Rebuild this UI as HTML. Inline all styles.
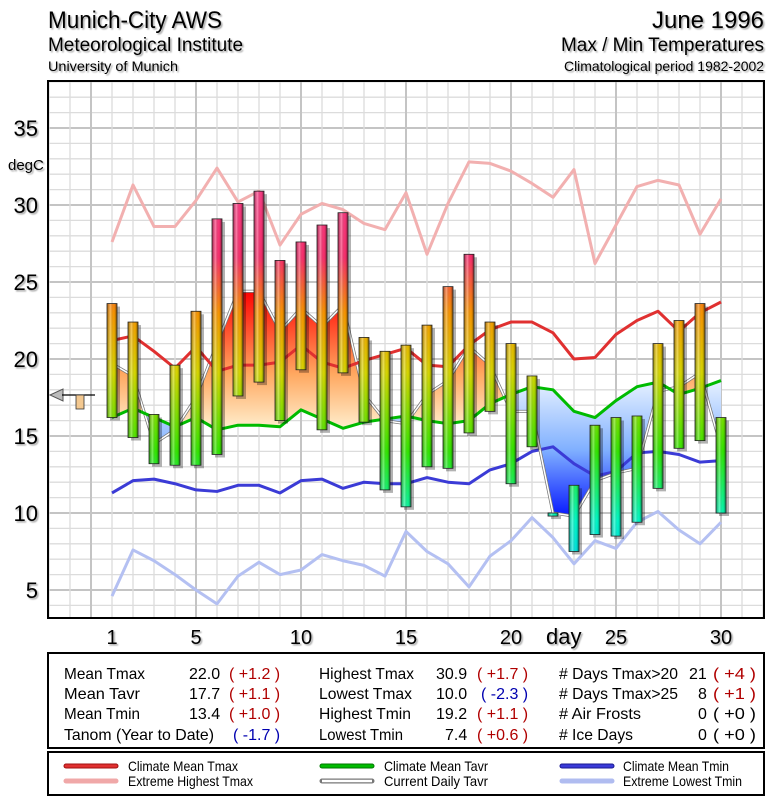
<!DOCTYPE html>
<html><head><meta charset="utf-8">
<style>
body{margin:0;background:#fff;}
svg text{font-family:"Liberation Sans",sans-serif;}
</style></head>
<body>
<svg id="chart" width="775" height="800" viewBox="0 0 775 800" xmlns="http://www.w3.org/2000/svg">
<defs>
  <linearGradient id="barCol" gradientUnits="userSpaceOnUse" x1="0" y1="590" x2="0" y2="128">
    <stop offset="0" stop-color="#00c8ff"/>
    <stop offset="0.15" stop-color="#00ffcc"/>
    <stop offset="0.3" stop-color="#33ee00"/>
    <stop offset="0.47" stop-color="#dddd00"/>
    <stop offset="0.6" stop-color="#ff9900"/>
    <stop offset="0.72" stop-color="#ff2f6f"/>
    <stop offset="1" stop-color="#ff50a0"/>
  </linearGradient>
  <linearGradient id="barShade" x1="0" y1="0" x2="1" y2="0">
    <stop offset="0" stop-color="#000" stop-opacity="0.35"/>
    <stop offset="0.35" stop-color="#fff" stop-opacity="0.35"/>
    <stop offset="0.7" stop-color="#000" stop-opacity="0"/>
    <stop offset="1" stop-color="#000" stop-opacity="0.45"/>
  </linearGradient>
  <linearGradient id="warm" gradientUnits="userSpaceOnUse" x1="0" y1="430" x2="0" y2="290">
    <stop offset="0" stop-color="#fff0d0"/>
    <stop offset="0.4" stop-color="#ffa860"/>
    <stop offset="1" stop-color="#ff0000"/>
  </linearGradient>
  <linearGradient id="cold" gradientUnits="userSpaceOnUse" x1="0" y1="380" x2="0" y2="520">
    <stop offset="0" stop-color="#e8f2ff"/>
    <stop offset="0.5" stop-color="#80b0ff"/>
    <stop offset="1" stop-color="#0010ff"/>
  </linearGradient>
  <filter id="ts" x="-10%" y="-10%" width="130%" height="130%"><feDropShadow dx="1.5" dy="1.5" stdDeviation="0.8" flood-color="#000" flood-opacity="0.35"/></filter>
  <clipPath id="plotClip"><rect x="48" y="81" width="716" height="537"/></clipPath>
  <clipPath id="aboveClip"><polygon id="aboveP"/></clipPath>
  <clipPath id="belowClip"><polygon id="belowP"/></clipPath>
</defs>

<g filter="url(#ts)">
  <text x="48" y="28" font-size="24" textLength="174" lengthAdjust="spacingAndGlyphs">Munich-City AWS</text>
  <text x="48" y="51" font-size="19" textLength="195" lengthAdjust="spacingAndGlyphs">Meteorological Institute</text>
  <text x="48" y="71" font-size="14" textLength="130" lengthAdjust="spacingAndGlyphs">University of Munich</text>
  <text x="652" y="28" font-size="24" textLength="112" lengthAdjust="spacingAndGlyphs">June 1996</text>
  <text x="561" y="51" font-size="19" textLength="203" lengthAdjust="spacingAndGlyphs">Max / Min Temperatures</text>
  <text x="564" y="71" font-size="14" textLength="200" lengthAdjust="spacingAndGlyphs">Climatological period 1982-2002</text>
</g>

<rect x="48" y="81" width="716" height="537" fill="#fff"/>
<g id="grid" clip-path="url(#plotClip)"></g>
<g id="yaxis" filter="url(#ts)"></g>
<text x="8" y="170" font-size="15" filter="url(#ts)">degC</text>
<g id="xaxis" filter="url(#ts)"></g>
<text x="546" y="644" font-size="22" filter="url(#ts)">day</text>
<g id="plot" clip-path="url(#plotClip)"></g>
<rect x="48" y="81" width="716" height="537" fill="none" stroke="#000" stroke-width="2"/>

<g>
  <polygon points="50,395 63,389 63,401" fill="#bbb" stroke="#555" stroke-width="1"/>
  <line x1="62" y1="395" x2="95" y2="395" stroke="#000" stroke-width="1.2"/>
  <rect x="76" y="395" width="8" height="14" fill="#f3c890" stroke="#333" stroke-width="0.8"/>
</g>

<g>
  <rect x="48" y="653" width="716" height="95" fill="#fff" stroke="#000" stroke-width="2"/>
  <g font-size="16">
    <g>
      <text x="64" y="679" textLength="81" lengthAdjust="spacingAndGlyphs">Mean Tmax</text>
      <text x="189" y="679">22.0</text><text x="229" y="679" fill="#b00000">( +1.2 )</text>
      <text x="64" y="699" textLength="76" lengthAdjust="spacingAndGlyphs">Mean Tavr</text>
      <text x="189" y="699">17.7</text><text x="229" y="699" fill="#b00000">( +1.1 )</text>
      <text x="64" y="719" textLength="76" lengthAdjust="spacingAndGlyphs">Mean Tmin</text>
      <text x="189" y="719">13.4</text><text x="229" y="719" fill="#b00000">( +1.0 )</text>
      <text x="64" y="740" textLength="150" lengthAdjust="spacingAndGlyphs">Tanom (Year to Date)</text>
      <text x="233" y="740" fill="#0000b0">( -1.7 )</text>
    </g>
    <g>
      <text x="319" y="679" textLength="95" lengthAdjust="spacingAndGlyphs">Highest Tmax</text>
      <text x="436" y="679">30.9</text><text x="477" y="679" fill="#b00000">( +1.7 )</text>
      <text x="319" y="699" textLength="93" lengthAdjust="spacingAndGlyphs">Lowest Tmax</text>
      <text x="436" y="699">10.0</text><text x="481" y="699" fill="#0000b0">( -2.3 )</text>
      <text x="319" y="719" textLength="92" lengthAdjust="spacingAndGlyphs">Highest Tmin</text>
      <text x="436" y="719">19.2</text><text x="477" y="719" fill="#b00000">( +1.1 )</text>
      <text x="319" y="740" textLength="84" lengthAdjust="spacingAndGlyphs">Lowest Tmin</text>
      <text x="445" y="740">7.4</text><text x="477" y="740" fill="#b00000">( +0.6 )</text>
    </g>
    <g>
      <text x="559" y="679" textLength="119" lengthAdjust="spacingAndGlyphs"># Days Tmax&gt;20</text>
      <text x="689" y="679">21</text><text x="713" y="679" fill="#b00000" textLength="43" lengthAdjust="spacingAndGlyphs">( +4 )</text>
      <text x="559" y="699" textLength="119" lengthAdjust="spacingAndGlyphs"># Days Tmax&gt;25</text>
      <text x="698" y="699">8</text><text x="713" y="699" fill="#b00000" textLength="43" lengthAdjust="spacingAndGlyphs">( +1 )</text>
      <text x="559" y="719" textLength="82" lengthAdjust="spacingAndGlyphs"># Air Frosts</text>
      <text x="698" y="719">0</text><text x="713" y="719" textLength="43" lengthAdjust="spacingAndGlyphs">( +0 )</text>
      <text x="559" y="740" textLength="74" lengthAdjust="spacingAndGlyphs"># Ice Days</text>
      <text x="698" y="740">0</text><text x="713" y="740" textLength="43" lengthAdjust="spacingAndGlyphs">( +0 )</text>
    </g>
  </g>
</g>

<g font-size="14">
  <rect x="48" y="752" width="716" height="43" fill="#fff" stroke="#000" stroke-width="2"/>
  <g><line x1="66" y1="766" x2="116" y2="766" stroke="#a01010" stroke-width="5" stroke-linecap="round"/><line x1="66" y1="766" x2="116" y2="766" stroke="#e03030" stroke-width="3" stroke-linecap="round"/><text x="128" y="771" textLength="110" lengthAdjust="spacingAndGlyphs">Climate Mean Tmax</text></g>
  <g><line x1="66" y1="781" x2="116" y2="781" stroke="#f0a8a8" stroke-width="5" stroke-linecap="round"/><text x="128" y="786" textLength="125" lengthAdjust="spacingAndGlyphs">Extreme Highest Tmax</text></g>
  <g><line x1="322" y1="766" x2="372" y2="766" stroke="#007700" stroke-width="5" stroke-linecap="round"/><line x1="322" y1="766" x2="372" y2="766" stroke="#00bb00" stroke-width="3" stroke-linecap="round"/><text x="384" y="771" textLength="104" lengthAdjust="spacingAndGlyphs">Climate Mean Tavr</text></g>
  <g><line x1="322" y1="781" x2="372" y2="781" stroke="#777" stroke-width="5" stroke-linecap="round"/><line x1="322" y1="781" x2="372" y2="781" stroke="#fff" stroke-width="2.5"/><text x="384" y="786" textLength="104" lengthAdjust="spacingAndGlyphs">Current Daily Tavr</text></g>
  <g><line x1="562" y1="766" x2="612" y2="766" stroke="#1a1a90" stroke-width="5" stroke-linecap="round"/><line x1="562" y1="766" x2="612" y2="766" stroke="#3a3ad8" stroke-width="3" stroke-linecap="round"/><text x="623" y="771" textLength="106" lengthAdjust="spacingAndGlyphs">Climate Mean Tmin</text></g>
  <g><line x1="562" y1="781" x2="612" y2="781" stroke="#b0bcf0" stroke-width="5" stroke-linecap="round"/><text x="623" y="786" textLength="119" lengthAdjust="spacingAndGlyphs">Extreme Lowest Tmin</text></g>
</g>

<script>
const days = [1,2,3,4,5,6,7,8,9,10,11,12,13,14,15,16,17,18,19,20,21,22,23,24,25,26,27,28,29,30];
const tmax = [23.6,22.4,16.4,19.6,23.1,29.1,30.1,30.9,26.4,27.6,28.7,29.5,21.4,20.5,20.9,22.2,24.7,26.8,22.4,21.0,18.9,10.0,11.8,15.7,16.2,16.3,21.0,22.5,23.6,16.2];
const tmin = [16.2,14.9,13.2,13.1,13.1,13.8,17.6,18.5,16.0,19.3,15.4,19.1,15.9,11.5,10.4,13.0,12.9,15.2,16.6,11.9,14.3,9.8,7.5,8.6,8.5,9.4,11.6,14.2,14.7,10.0];
const tavr = [19.7,18.9,14.5,15.4,17.5,21.0,24.4,24.4,21.8,23.3,22.1,23.5,17.7,16.0,15.8,17.7,18.6,20.8,19.6,16.6,16.6,10.0,9.8,12.1,12.6,12.9,17.9,18.2,19.1,14.3];
const climTmax = [21.2,21.5,20.5,19.4,20.8,19.2,19.6,19.6,19.8,20.9,19.8,19.4,19.9,20.3,20.7,19.6,19.5,20.9,21.9,22.4,22.4,21.7,20.0,20.1,21.6,22.5,23.1,21.8,23.0,23.7];
const climTavr = [16.2,16.8,16.2,15.6,16.2,15.4,15.7,15.7,15.6,16.7,16.1,15.5,15.9,16.1,16.3,16.0,15.8,16.0,17.1,17.7,18.2,18.0,16.6,16.2,17.3,18.2,18.5,17.7,18.1,18.6];
const climTmin = [11.3,12.1,12.2,11.9,11.5,11.4,11.8,11.8,11.3,12.1,12.2,11.6,12.0,11.9,11.9,12.3,12.0,11.9,12.8,13.2,14.0,14.3,13.2,12.4,12.7,13.9,14.0,13.8,13.3,13.4];
const extHigh = [27.6,31.3,28.6,28.6,30.3,32.4,30.2,30.9,27.4,29.4,30.1,29.7,28.8,28.4,30.8,26.8,30.1,32.8,32.7,32.2,31.4,30.5,32.3,26.2,28.7,31.2,31.6,31.3,28.1,30.4];
const extLow = [4.6,7.6,6.9,6.0,5.0,4.1,5.9,6.8,6.0,6.3,7.3,6.9,6.6,5.9,8.8,7.5,6.7,5.2,7.2,8.2,9.7,8.4,6.7,8.2,7.7,9.4,10.1,8.9,8.0,9.4];
const yTicks = [5,10,15,20,25,30,35];
const xTicks = [1,5,10,15,20,25,30];

const NS = 'http://www.w3.org/2000/svg';
function X(d){ return 112 + (d-1)*21; }
function Y(v){ return 590 - (v-5)*15.4; }
function mk(tag, attrs, parent){
  const e = document.createElementNS(NS, tag);
  for (const k in attrs) e.setAttribute(k, attrs[k]);
  parent.appendChild(e);
  return e;
}
const grid = document.getElementById('grid');
for (let v = 3; v <= 38; v++){
  const l = mk('line', {x1:48, x2:764, y1:Y(v), y2:Y(v), stroke: v%5===0 ? '#c4c4c4' : '#dcdcdc', 'stroke-width': v%5===0 ? 2 : 1.3}, grid);
  
  
}
for (let d = -2; d <= 33; d++){
  const l = mk('line', {x1:X(d), x2:X(d), y1:81, y2:618, stroke: d%5===0 ? '#c4c4c4' : '#dcdcdc', 'stroke-width': d%5===0 ? 2 : 1.3}, grid);
  
  
}
const yaxis = document.getElementById('yaxis');
yTicks.forEach(v => {
  const t = mk('text', {x: 38, y: Y(v)+8, 'font-size': 22, 'text-anchor': 'end'}, yaxis);
  
  
  t.textContent = v;
});
const xaxis = document.getElementById('xaxis');
xTicks.forEach(d => {
  const t = mk('text', {x: X(d), y: 644, 'font-size': 20, 'text-anchor': 'middle'}, xaxis);
  
  
  t.textContent = d;
});

const plot = document.getElementById('plot');
function pts(arr){ return arr.map((v,i) => X(days[i]) + ',' + Y(v)).join(' '); }

const climPts = pts(climTavr);
document.getElementById('aboveP').setAttribute('points', X(days[0]) + ',81 ' + climPts + ' ' + X(days[days.length-1]) + ',81');
document.getElementById('belowP').setAttribute('points', X(days[0]) + ',618 ' + climPts + ' ' + X(days[days.length-1]) + ',618');
const areaPts = pts(tavr) + ' ' + climTavr.map((v,i) => X(days[i]) + ',' + Y(v)).reverse().join(' ');
const warm = mk('polygon', {points: areaPts, fill: 'url(#warm)', 'clip-path': 'url(#aboveClip)'}, plot);


const cold = mk('polygon', {points: areaPts, fill: 'url(#cold)', 'clip-path': 'url(#belowClip)'}, plot);



function line(arr, color, w, name){
  const p = mk('polyline', {points: pts(arr), fill: 'none', stroke: color, 'stroke-width': w, 'stroke-linejoin': 'round'}, plot);
  
  
  return p;
}
line(extHigh, '#f2b0b0', 3, 'extreme-highest-tmax-line');
line(extLow, '#b4c0f2', 3, 'extreme-lowest-tmin-line');
line(climTmin, '#3b3bd6', 3, 'climate-mean-tmin-line');
line(tavr, '#777', 3, 'daily-tavr-line-outline');
line(tavr, '#fff', 1.5, 'daily-tavr-line');
line(climTmax, '#e03030', 3, 'climate-mean-tmax-line');
line(climTavr, '#00bb00', 3, 'climate-mean-tavr-line');

days.forEach((d,i) => {
  const g = mk('g', {}, plot);
  
  
  const x = X(d) - 5, y1 = Y(tmax[i]), y2 = Y(tmin[i]);
  const h = Math.max(y2 - y1, 2);
  mk('rect', {x: x+3, y: y1+3, width: 10, height: h, fill: '#000', opacity: 0.3}, g);
  mk('rect', {x: x, y: y1, width: 10, height: h, fill: 'url(#barCol)'}, g);
  mk('rect', {x: x, y: y1, width: 10, height: h, fill: 'url(#barShade)', stroke: '#222', 'stroke-width': 0.8}, g);
});
</script>
</svg>
</body></html>
